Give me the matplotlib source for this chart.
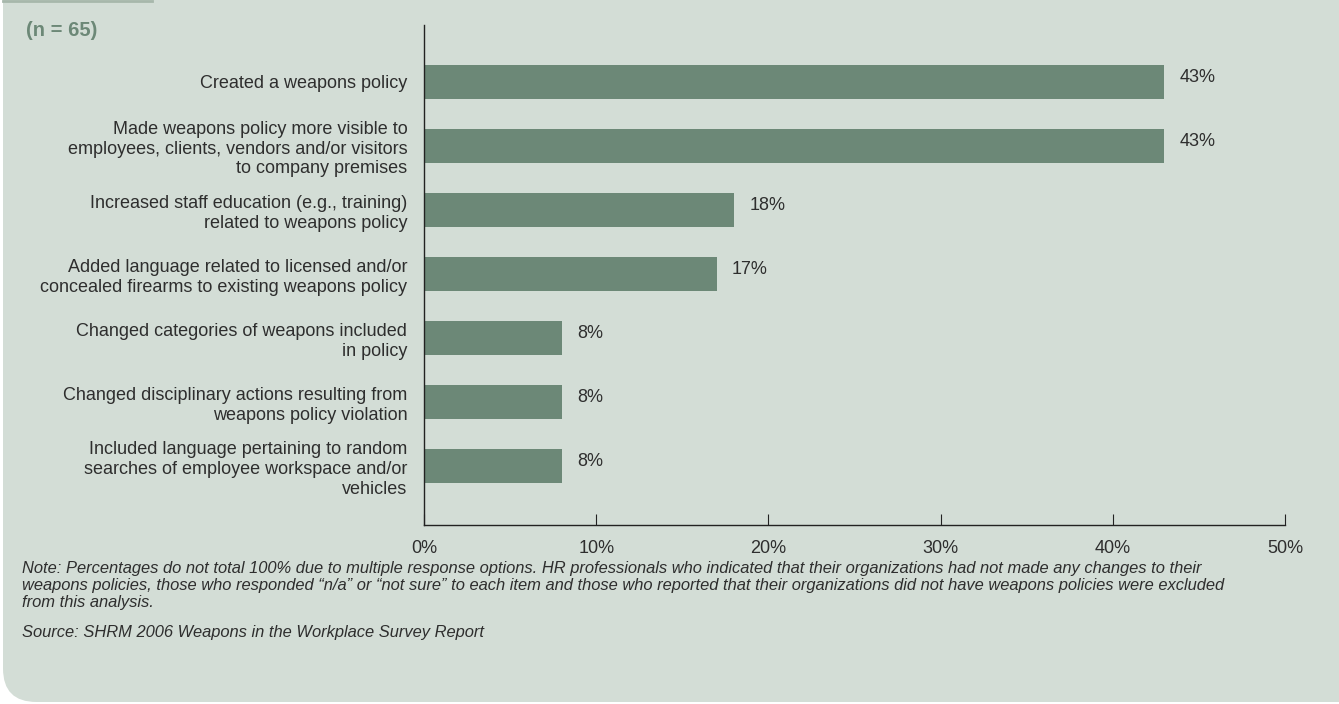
import numpy as np
import matplotlib
matplotlib.use("Agg")
import matplotlib.pyplot as plt
from matplotlib.patches import FancyBboxPatch

# survey responses, top to bottom
actions = [
    "Created a weapons policy",
    "Made weapons policy more visible to\nemployees, clients, vendors and/or visitors\nto company premises",
    "Increased staff education (e.g., training)\nrelated to weapons policy",
    "Added language related to licensed and/or\nconcealed firearms to existing weapons policy",
    "Changed categories of weapons included\nin policy",
    "Changed disciplinary actions resulting from\nweapons policy violation",
    "Included language pertaining to random\nsearches of employee workspace and/or\nvehicles",
]
percents = [43, 43, 18, 17, 8, 8, 8]
xticks = [0, 10, 20, 30, 40, 50]
xtick_labels = ["0%", "10%", "20%", "30%", "40%", "50%"]

sample_note = "(n = 65)"
note_text = ("Note: Percentages do not total 100% due to multiple response options. HR professionals who indicated that their organizations had not made any changes to their\n"
             "weapons policies, those who responded \u201cn/a\u201d or \u201cnot sure\u201d to each item and those who reported that their organizations did not have weapons policies were excluded\n"
             "from this analysis.")
source_text = "Source: SHRM 2006 Weapons in the Workplace Survey Report"

panel_col = "#d3ddd6"
bar_col = "#6c8877"
text_col = "#2e2e2e"

plt.rcParams["font.family"] = ["Liberation Sans", "DejaVu Sans"]

W, H = 1339, 704
fig = plt.figure(figsize=(W / 100, H / 100), dpi=100)
fig.patch.set_facecolor("white")

# background panel, rounded at the bottom only (top runs off the figure)
panel = FancyBboxPatch((3 / W, 2 / H), 1 - 3 / W + 0.05, 1.2,
                       boxstyle="round,pad=0,rounding_size=0.025",
                       transform=fig.transFigure, facecolor=panel_col,
                       edgecolor="none", mutation_aspect=W / H, zorder=-10)
fig.patches.append(panel)
fig.add_artist(plt.Line2D([3 / W, 152 / W], [1 - 1 / H, 1 - 1 / H],
                          transform=fig.transFigure, color="#a7b7ab", lw=2, zorder=-5))

ax = fig.add_axes([424 / W, 1 - 525 / H, (1285 - 424) / W, 500 / H])
ax.set_facecolor("none")
ax.set_zorder(5)

y = np.arange(len(actions))
ax.barh(y, percents, height=0.53, color=bar_col, zorder=2)
ax.set_xlim(0, 50)
ax.set_ylim(6.92, -0.89)

for yi, p in zip(y, percents):
    ax.annotate("%d%%" % p, (p, yi), xytext=(11, 3), textcoords="offset points",
                ha="left", va="center", fontsize=13, color=text_col)

ax.set_yticks(y)
ax.set_yticklabels(actions, fontsize=13, color=text_col, linespacing=1.2)
ax.tick_params(axis="y", length=0, pad=12)

ax.set_xticks(xticks)
ax.set_xticklabels(xtick_labels, fontsize=13, color=text_col)
ax.tick_params(axis="x", direction="in", length=8, width=0.8, color="#222222", pad=11)

for s in ["top", "right"]:
    ax.spines[s].set_visible(False)
for s in ["left", "bottom"]:
    ax.spines[s].set_color("#222222")
    ax.spines[s].set_linewidth(1.0)

fig.text(26 / W, 1 - 31 / H, sample_note, fontsize=14.5, fontweight="bold",
         color="#6c8877", va="center", ha="left")
fig.text(22 / W, 1 - 561 / H, note_text, fontsize=11.9, style="italic",
         color=text_col, va="top", ha="left", linespacing=1.15)
fig.text(22 / W, 1 - 632 / H, source_text, fontsize=11.9, style="italic",
         color=text_col, va="center", ha="left")

fig.savefig("out.png", dpi=100, facecolor=fig.get_facecolor())
